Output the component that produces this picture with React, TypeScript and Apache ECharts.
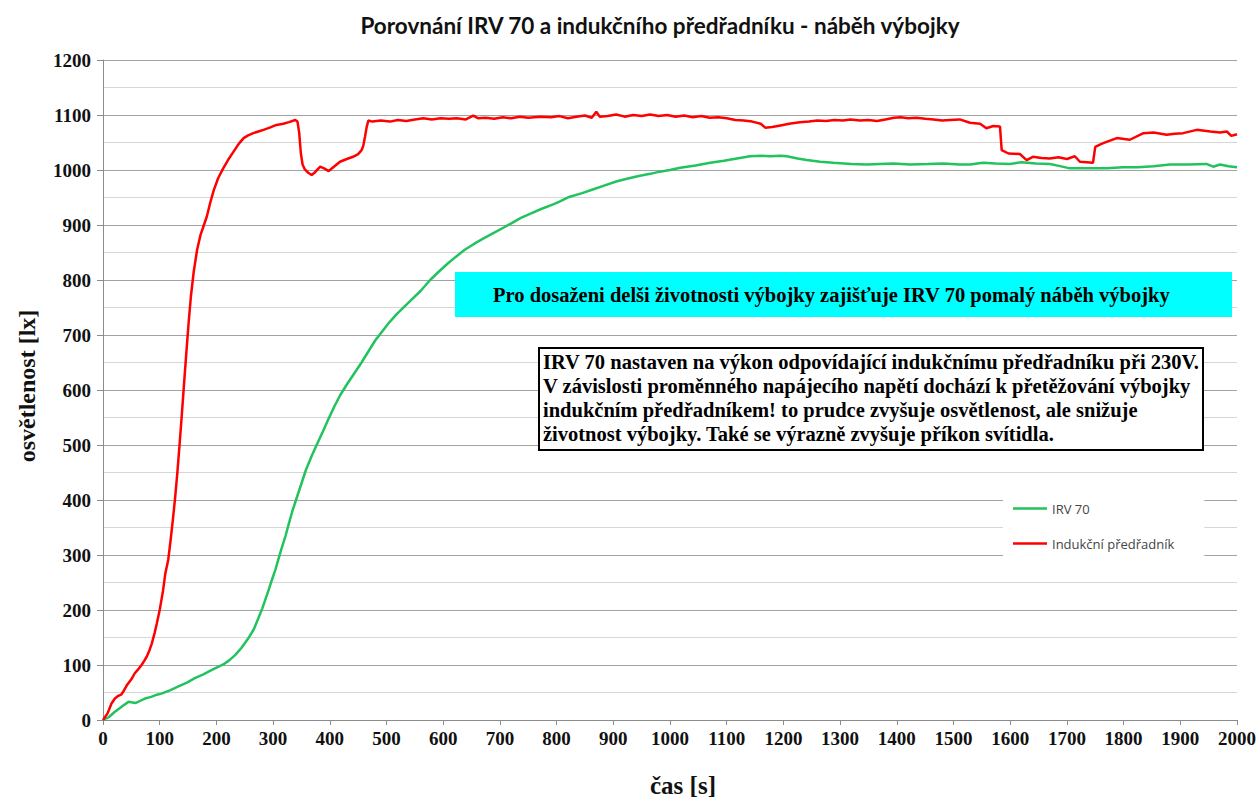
import React, { useEffect, useRef } from "react";
import * as echarts from "echarts";

const titleText = "Porovnání IRV 70 a indukčního předřadníku - náběh výbojky";
const yAxisTitle = "osvětlenost [lx]";
const xAxisTitle = "čas [s]";
const seriesNames = ["IRV 70", "Indukční předřadník"];
const cyanNote = "Pro dosaženi delši životnosti výbojky zajišťuje IRV 70 pomalý náběh výbojky";
const boxNoteLines = [
  "IRV 70 nastaven na výkon odpovídající indukčnímu předřadníku při 230V.",
  "V závislosti proměnného napájecího napětí dochází k přetěžování výbojky",
  "indukčním předřadníkem! to prudce zvyšuje osvětlenost, ale snižuje",
  "životnost výbojky. Také se výrazně zvyšuje příkon svítidla.",
];

const greenTime = [
  0, 10, 21, 30, 38, 45, 52, 58, 66, 74, 85, 95, 103, 118, 133, 148, 162, 177, 192, 202,
  212, 222, 233, 244, 256, 266, 274, 281, 286, 292, 298, 304, 309, 315, 322, 328, 334, 342, 350, 358,
  368, 379, 388, 398, 408, 418, 430, 443, 456, 468, 480, 492, 505, 518, 532, 546, 560, 577, 592, 608,
  622, 638, 655, 672, 690, 706, 720, 737, 755, 775, 795, 806, 822, 845, 865, 885, 905, 924, 945, 965,
  982, 1000, 1018, 1045, 1071, 1095, 1118, 1141, 1160, 1176, 1195, 1206, 1225, 1241, 1265, 1288, 1320, 1347, 1370, 1394,
  1423, 1455, 1482, 1511, 1529, 1552, 1575, 1600, 1620, 1645, 1670, 1688, 1705, 1740, 1770, 1799, 1825, 1853, 1882, 1915,
  1946, 1958, 1970, 1985, 2000,
];
const greenValue = [
  0, 5, 15, 22, 28, 33, 32, 31, 35, 39, 42, 46, 48, 54, 61, 68, 76, 83, 91, 96,
  101, 108, 118, 131, 148, 165, 185, 203, 218, 236, 255, 273, 291, 312, 335, 358, 380, 405, 430, 455,
  480, 505, 525, 548, 570, 590, 610, 630, 650, 670, 690, 706, 723, 738, 752, 766, 780, 800, 815, 830,
  842, 855, 866, 876, 886, 895, 903, 913, 921, 930, 938, 943, 951, 958, 965, 972, 979, 984, 989, 993,
  997, 1000, 1004, 1008, 1013, 1017, 1021, 1025, 1026, 1025, 1026, 1025, 1021, 1018, 1015, 1013, 1011, 1010, 1011, 1012,
  1010, 1011, 1012, 1010, 1010, 1013, 1012, 1011, 1014, 1012, 1011, 1007, 1003, 1003, 1003, 1005, 1005, 1007, 1010, 1010,
  1011, 1006, 1010, 1007, 1005,
];

const redTime = [
  0, 8, 15, 21, 27, 32, 36, 42, 50, 56, 62, 68, 73, 77, 82, 86, 91, 95, 100, 103,
  106, 110, 115, 119, 123, 127, 131, 135, 139, 143, 147, 151, 155, 160, 166, 172, 178, 183, 189, 195,
  203, 212, 221, 230, 239, 248, 256, 265, 274, 283, 294, 306, 318, 328, 339, 343, 346, 349, 352, 356,
  362, 368, 374, 383, 390, 398, 405, 418, 430, 441, 450, 456, 459, 462, 465, 468, 475, 490, 506, 520,
  535, 550, 565, 580, 595, 610, 624, 640, 653, 662, 675, 690, 705, 720, 735, 750, 771, 790, 805, 820,
  835, 850, 862, 870, 876, 890, 905, 920, 935, 950, 965, 980, 995, 1010, 1025, 1040, 1055, 1070, 1085, 1100,
  1115, 1130, 1145, 1160, 1168, 1180, 1195, 1210, 1229, 1245, 1260, 1275, 1290, 1305, 1318, 1335, 1350, 1365, 1380, 1395,
  1407, 1420, 1435, 1450, 1465, 1480, 1494, 1511, 1529, 1547, 1558, 1570, 1582, 1585, 1597, 1617, 1629, 1640, 1655, 1670,
  1685, 1700, 1714, 1723, 1735, 1746, 1750, 1760, 1770, 1788, 1811, 1835, 1853, 1876, 1890, 1905, 1929, 1953, 1970, 1982,
  1990, 2000,
];
const redValue = [
  0, 12, 30, 39, 44, 46, 52, 63, 74, 85, 92, 100, 108, 115, 127, 139, 158, 176, 200, 218,
  236, 267, 291, 325, 362, 402, 448, 500, 555, 612, 668, 722, 770, 815, 855, 882, 900, 915, 940, 962,
  985, 1003, 1019, 1033, 1047, 1058, 1063, 1067, 1070, 1073, 1077, 1082, 1084, 1087, 1091, 1088, 1068, 1030, 1010, 1001,
  995, 991, 996, 1006, 1003, 998, 1004, 1015, 1020, 1024, 1029, 1036, 1044, 1060, 1078, 1090, 1088, 1090, 1088, 1091,
  1089, 1092, 1094, 1092, 1094, 1093, 1094, 1092, 1099, 1094, 1095, 1093, 1096, 1094, 1097, 1095, 1097, 1096, 1098, 1094,
  1097, 1099, 1095, 1106, 1097, 1098, 1101, 1097, 1100, 1098, 1101, 1098, 1100, 1097, 1099, 1096, 1098, 1095, 1096, 1094,
  1091, 1090, 1088, 1084, 1077, 1078, 1081, 1084, 1087, 1088, 1090, 1089, 1091, 1090, 1092, 1090, 1091, 1089, 1092, 1095,
  1096, 1094, 1095, 1093, 1092, 1090, 1091, 1092, 1086, 1084, 1076, 1080, 1079, 1036, 1030, 1029, 1018, 1024, 1022, 1021,
  1023, 1020, 1025, 1015, 1014, 1013, 1042, 1047, 1051, 1058, 1055, 1067, 1068, 1064, 1066, 1067, 1073, 1070, 1068, 1070,
  1062, 1065,
];

const yTicks = { min: 0, max: 1200, step: 100 };
const xTicks = { min: 0, max: 2000, step: 100 };

const SERIF = '"Liberation Serif", "Times New Roman", "DejaVu Serif", serif';
const SANS = '"Open Sans", "Noto Sans", sans-serif';

export default function App() {
  const ref = useRef<HTMLDivElement>(null);
  useEffect(() => {
    if (!ref.current) return;
    const chart = echarts.init(ref.current, undefined, { renderer: "svg" });
    const green = greenTime.map((t, i) => [t, greenValue[i]]);
    const red = redTime.map((t, i) => [t, redValue[i]]);
    chart.setOption({
      animation: false,
      backgroundColor: "#ffffff",
      grid: { left: 103, right: 23, top: 60, bottom: 78, containLabel: false },
      xAxis: {
        type: "value",
        min: xTicks.min,
        max: xTicks.max,
        interval: xTicks.step,
        axisLine: { show: true, lineStyle: { color: "#8c8c8c", width: 1 } },
        axisTick: { show: true, length: 5, lineStyle: { color: "#8c8c8c" } },
        splitLine: { show: false },
        axisLabel: {
          fontFamily: SERIF,
          fontWeight: "bold",
          fontSize: 19,
          color: "#111",
          margin: 9,
          formatter: (v: number) => String(v),
        },
      },
      yAxis: {
        type: "value",
        min: yTicks.min,
        max: yTicks.max,
        interval: yTicks.step,
        minorSplitLine: { show: true, lineStyle: { color: "#d6d6d6", width: 1 } },
        minorTick: { show: false, splitNumber: 2 },
        axisLine: { show: true, lineStyle: { color: "#8c8c8c", width: 1 } },
        axisTick: { show: true, length: 6, lineStyle: { color: "#8c8c8c" } },
        splitLine: { show: true, lineStyle: { color: "#a3a3a3", width: 1 } },
        axisLabel: {
          fontFamily: SERIF,
          fontWeight: "bold",
          fontSize: 19,
          color: "#111",
          margin: 12,
          formatter: (v: number) => String(v),
        },
      },
      legend: {
        orient: "vertical",
        left: 1003,
        top: 488,
        backgroundColor: "#ffffff",
        padding: [14, 30, 14, 10],
        itemGap: 22,
        itemWidth: 34,
        itemHeight: 14,
        icon: "path://M0,6 L34,6 L34,8.5 L0,8.5 Z",
        textStyle: { fontFamily: SANS, fontSize: 13, color: "#444" },
        data: seriesNames,
      },
      series: [
        {
          name: seriesNames[0],
          type: "line",
          data: green,
          showSymbol: false,
          symbol: "none",
          lineStyle: { color: "#22c35e", width: 2.5 },
          itemStyle: { color: "#22c35e" },
          z: 3,
        },
        {
          name: seriesNames[1],
          type: "line",
          data: red,
          showSymbol: false,
          symbol: "none",
          lineStyle: { color: "#ff0000", width: 2.5 },
          itemStyle: { color: "#ff0000" },
          z: 4,
        },
      ],
      graphic: [
        {
          type: "text",
          x: 660,
          y: 25,
          style: {
            text: titleText,
            fontFamily: '"Lato", "Open Sans", sans-serif',
            fontWeight: "bold",
            fontSize: 22.5,
            fill: "#111",
            align: "center",
            verticalAlign: "middle",
          },
        },
        {
          type: "text",
          x: 27,
          y: 386,
          rotation: Math.PI / 2,
          style: {
            text: yAxisTitle,
            fontFamily: SERIF,
            fontWeight: "bold",
            fontSize: 24,
            fill: "#111",
            align: "center",
            verticalAlign: "middle",
          },
        },
        {
          type: "text",
          x: 683,
          y: 785,
          style: {
            text: xAxisTitle,
            fontFamily: SERIF,
            fontWeight: "bold",
            fontSize: 25,
            fill: "#111",
            align: "center",
            verticalAlign: "middle",
          },
        },
        {
          type: "rect",
          z: 50,
          shape: { x: 455, y: 272, width: 777, height: 45 },
          style: { fill: "#00ffff" },
        },
        {
          type: "text",
          z: 51,
          x: 493,
          y: 294.5,
          style: {
            text: cyanNote,
            fontFamily: SERIF,
            fontWeight: "bold",
            fontSize: 20.5,
            fill: "#000",
            align: "left",
            verticalAlign: "middle",
          },
        },
        {
          type: "rect",
          z: 50,
          shape: { x: 539, y: 348, width: 664, height: 102 },
          style: { fill: "#ffffff", stroke: "#000", lineWidth: 2 },
        },
        ...boxNoteLines.map((line, i) => ({
          type: "text",
          z: 51,
          x: 543,
          y: 362 + i * 24,
          style: {
            text: line,
            fontFamily: SERIF,
            fontWeight: "bold",
            fontSize: 20.5,
            fill: "#000",
            align: "left",
            verticalAlign: "middle",
          },
        })),
      ],
    });
    return () => chart.dispose();
  }, []);
  return <div ref={ref} style={{ width: 1260, height: 798, position: "absolute", left: 0, top: 0 }} />;
}
